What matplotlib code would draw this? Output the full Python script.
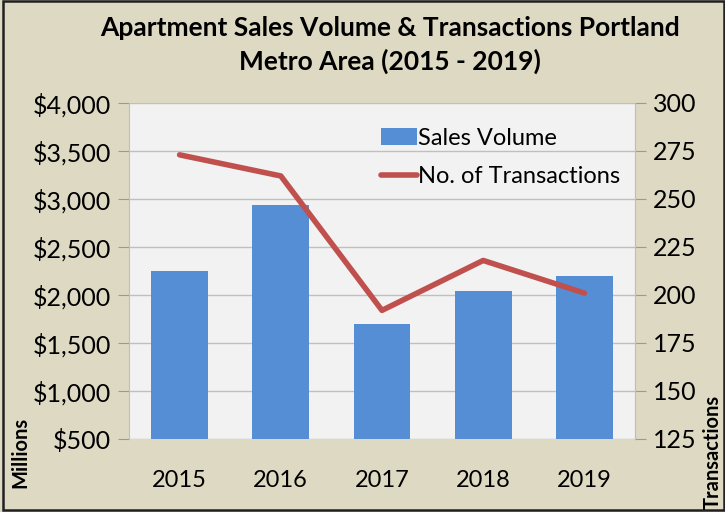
import numpy as np
import matplotlib.pyplot as plt

years = ["2015", "2016", "2017", "2018", "2019"]
sales_volume = [2250, 2940, 1700, 2040, 2200]
transactions = [273, 262, 192, 218, 201]
left_ticks = [500, 1000, 1500, 2000, 2500, 3000, 3500, 4000]
right_ticks = [125, 150, 175, 200, 225, 250, 275, 300]

plt.rcParams['font.family'] = ['Lato', 'DejaVu Sans']

fig = plt.figure(figsize=(7.25, 5.12), dpi=100, facecolor="#ddd9c3")
ax = fig.add_axes([129/725, 1 - 439/512, (635-129)/725, (439-103)/512])
ax.set_facecolor("#f2f2f2")

x = np.arange(len(years))
bars = ax.bar(x, sales_volume, width=0.56, color="#558ed5", label="Sales Volume", zorder=2)
ax.set_ylim(500, 4000)
ax.set_yticks(left_ticks)
ax.set_yticklabels(["${:,}".format(v) for v in left_ticks], fontsize=18)
ax.set_xlim(-0.5, 4.5)
ax.set_xticks(x)
ax.set_xticklabels(years, fontsize=17)
ax.tick_params(axis="x", length=0, pad=22)
ax.tick_params(axis="y", length=8, color="#999999", pad=5)
ax.grid(axis="y", color="#bfbfbf", linewidth=1, zorder=0)
for s in ["top", "bottom"]:
    ax.spines[s].set_visible(False)
for s in ["left", "right"]:
    ax.spines[s].set_color("#bfbfbf")

ax2 = ax.twinx()
line, = ax2.plot(x, transactions, color="#c0504d", linewidth=4, solid_capstyle="round",
                 label="No. of Transactions", zorder=3)
ax2.set_ylim(125, 300)
ax2.set_yticks(right_ticks)
ax2.set_yticklabels([str(v) for v in right_ticks], fontsize=18)
ax2.tick_params(axis="y", length=8, color="#999999", pad=5)
for s in ["top", "bottom", "left"]:
    ax2.spines[s].set_visible(False)
ax2.spines["right"].set_color("#bfbfbf")

ax2.legend([bars, line], ["Sales Volume", "No. of Transactions"], loc="upper left",
           bbox_to_anchor=(0.48, 0.955), frameon=False, fontsize=17, handlelength=1.5,
           handletextpad=0.05, labelspacing=0.75, borderaxespad=0)

fig.text(390/725, 0.968, "Apartment Sales Volume & Transactions Portland\nMetro Area (2015 - 2019)",
         ha="center", va="top", fontsize=19, fontweight="bold", linespacing=1.4)
fig.text(20/725, 1 - 452/512, "Millions", rotation=90, ha="center", va="center",
         fontsize=14.5, fontweight="bold")
fig.text(713/725, 1 - 452/512, "Transactions", rotation=90, ha="center", va="center",
         fontsize=14.5, fontweight="bold")

border = plt.Rectangle((0.004, 0.004), 0.994, 0.994, transform=fig.transFigure,
                       fill=False, edgecolor="#202020", linewidth=1.8)
fig.patches.append(border)

fig.savefig("out.png", dpi=100, facecolor=fig.get_facecolor())
